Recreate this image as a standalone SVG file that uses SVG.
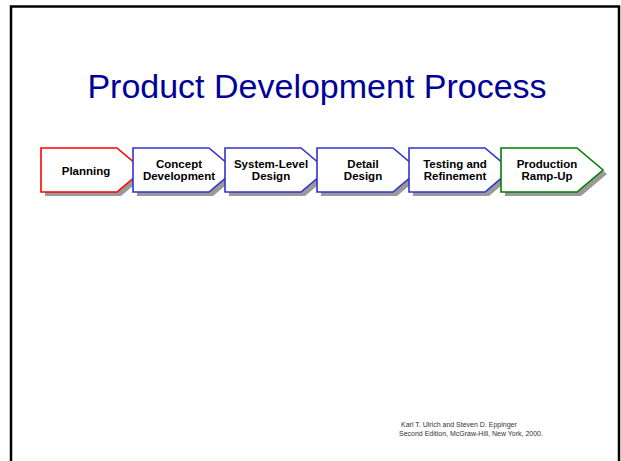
<svg xmlns="http://www.w3.org/2000/svg" width="621" height="461" viewBox="0 0 621 461">
  <style>
    .frame { fill: #ffffff; stroke: #000000; stroke-width: 2.5; }
    .title { font-family: "Liberation Sans", Arial, sans-serif; font-size: 34px; fill: #000099; }
    .step { fill: #ffffff; stroke-width: 1.6; stroke-linejoin: miter; }
    .shadow { fill: #999999; }
    .label { font-family: "Liberation Sans", Arial, sans-serif; font-size: 11.5px; font-weight: bold; fill: #000000; text-anchor: middle; }
    .credit { font-family: "Liberation Sans", Arial, sans-serif; font-size: 7px; fill: #333333; }
  </style>
  <defs>
    <!-- one process step: pentagon arrow, 102 wide, 44 tall -->
    <path id="chev" d="M0,0 H76 L102,22 L76,44 H0 Z"/>
  </defs>

  <rect class="frame" x="11" y="6.5" width="608" height="470"/>

  <text class="title" x="317" y="98" text-anchor="middle">Product Development Process</text>

  <!-- process steps, drawn left to right so each one overlaps the previous tip -->
  <g id="planning" transform="translate(41,148)">
    <use href="#chev" class="shadow" x="4" y="4"/>
    <use href="#chev" class="step" stroke="#ff0000"/>
    <text class="label" x="45" y="26.5">Planning</text>
  </g>
  <g id="concept" transform="translate(133,148)">
    <use href="#chev" class="shadow" x="4" y="4"/>
    <use href="#chev" class="step" stroke="#3333cc"/>
    <text class="label" x="46" y="19.5">Concept</text>
    <text class="label" x="46" y="32">Development</text>
  </g>
  <g id="system-level" transform="translate(225,148)">
    <use href="#chev" class="shadow" x="4" y="4"/>
    <use href="#chev" class="step" stroke="#3333cc"/>
    <text class="label" x="46" y="19.5">System-Level</text>
    <text class="label" x="46" y="32">Design</text>
  </g>
  <g id="detail" transform="translate(317,148)">
    <use href="#chev" class="shadow" x="4" y="4"/>
    <use href="#chev" class="step" stroke="#3333cc"/>
    <text class="label" x="46" y="19.5">Detail</text>
    <text class="label" x="46" y="32">Design</text>
  </g>
  <g id="testing" transform="translate(409,148)">
    <use href="#chev" class="shadow" x="4" y="4"/>
    <use href="#chev" class="step" stroke="#3333cc"/>
    <text class="label" x="46" y="19.5">Testing and</text>
    <text class="label" x="46" y="32">Refinement</text>
  </g>
  <g id="production" transform="translate(501,148)">
    <use href="#chev" class="shadow" x="4" y="4"/>
    <use href="#chev" class="step" stroke="#008000"/>
    <text class="label" x="46" y="19.5">Production</text>
    <text class="label" x="46" y="32">Ramp-Up</text>
  </g>

  <g id="connectors"></g>

  <text class="credit" x="401" y="427">Karl T. Ulrich and Steven D. Eppinger</text>
  <text class="credit" x="399" y="436">Second Edition, McGraw-Hill, New York, 2000.</text>
</svg>
